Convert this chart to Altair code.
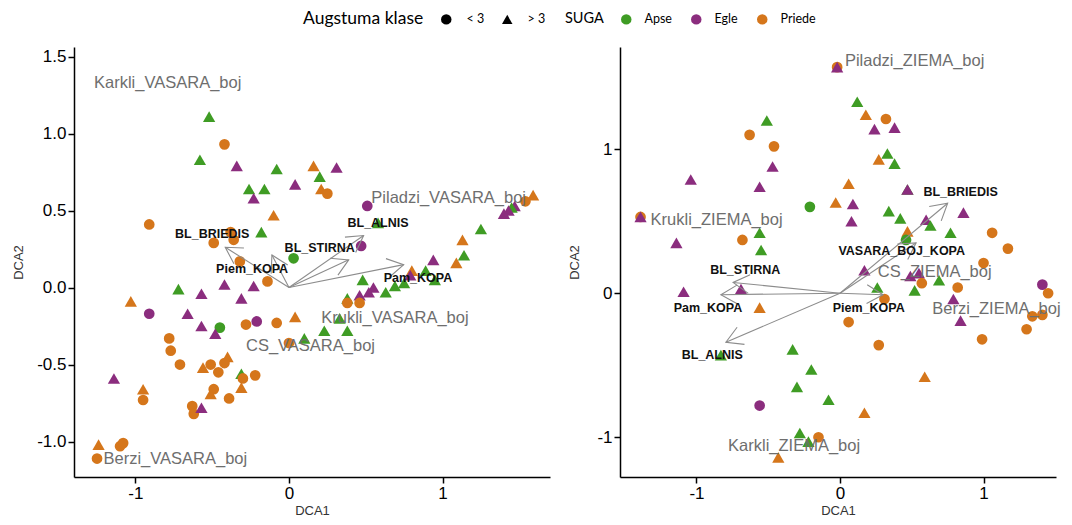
import math
import altair as alt
import pandas as pd

# ---------------- categories ----------------
SUGA = ["Apse", "Egle", "Priede"]
SUGA_COLORS = ["#3f9c24", "#8b2d7e", "#d5761b"]
KLASE = ["< 3", "> 3"]
KLASE_SHAPES = ["circle", "triangle-up"]
SUGA_CODE = {"G": "Apse", "P": "Egle", "O": "Priede"}
KLASE_CODE = {"c": "< 3", "t": "> 3"}

# ---------------- left panel (VASARA) : site scores ----------------
L_x = [-0.52, -0.42, -0.58, -0.34, -0.08, -0.26, -0.16, 0.04, -0.23, -0.10,
       -0.91, -0.18, -0.38, -0.36, -0.49, 0.03, -0.32, -0.14, -0.42, -0.23,
       0.16, 0.31, 0.20, 0.21, 0.25, 0.51, 0.58, 0.47, 1.59, 1.54,
       1.47, 1.45, 1.43, 1.40, 1.25, 1.13, 1.14, 1.09, 0.94, 0.80,
       0.89, 0.79, 0.95, 0.75, 0.69, 0.63, 0.48, 0.55, 0.52, 0.46,
       0.38, 0.38, 0.46, 0.33, 0.04, 0.23, 0.38, 0.00, 0.10, -0.22,
       -0.72, -1.03, -0.57, -0.31, -0.91, -0.66, -0.57, -0.45, -0.48, -0.28,
       -0.21, -0.08, -0.78, -0.77, -0.71, -0.40, -0.42, -0.51, -0.56, -0.46,
       -1.14, -0.31, -0.30, -0.31, -0.95, -0.95, -0.49, -0.51, -0.39, -0.63,
       -0.62, -0.57, -1.24, -1.10, -1.08, -1.25]
L_y = [1.11, 0.93, 0.83, 0.79, 0.77, 0.64, 0.64, 0.67, 0.58, 0.47,
       0.41, 0.36, 0.36, 0.31, 0.29, 0.19, 0.17, 0.04, 0.02, 0.01,
       0.79, 0.78, 0.72, 0.64, 0.61, 0.53, 0.42, 0.27, 0.60, 0.56,
       0.53, 0.52, 0.50, 0.48, 0.38, 0.31, 0.21, 0.16, 0.18, 0.11,
       0.11, 0.08, 0.05, 0.03, 0.01, -0.03, 0.05, 0.00, -0.03, -0.05,
       -0.07, -0.10, -0.10, -0.20, -0.19, -0.28, -0.28, -0.36, -0.33, -0.57,
       -0.01, -0.09, -0.04, -0.07, -0.17, -0.17, -0.25, -0.26, -0.30, -0.24,
       -0.22, -0.23, -0.33, -0.41, -0.50, -0.45, -0.49, -0.50, -0.52, -0.55,
       -0.59, -0.56, -0.59, -0.65, -0.66, -0.73, -0.66, -0.69, -0.72, -0.77,
       -0.82, -0.78, -1.02, -1.03, -1.01, -1.11]
# c = height class "< 3" (circle), t = "> 3" (triangle)
L_k = ("tctttttttt" "ctcccccctt" "ttttcctctc" "tttttttttt" "tttttttttt"
       "tccttttctc" "ttttcttctc" "ccccctcctc" "ttcttcctcc" "cttccc")
# G = Apse, P = Egle, O = Priede
L_s = ("GOGPGGGPPO" "OGOOOGOOPP" "OPGOOPGPOO" "PGPPGOGOPO" "GPGGGGGPPP"
       "GOOGOGGOGO" "GOPPPPPGPO" "POOOOOOOOO" "PGOOOOOOOO" "OPOOOO")

# ---------------- right panel (ZIEMA) : site scores ----------------
R_x = [-0.51, -0.63, -0.46, -0.47, -1.04, -0.56, -0.21, -1.39, -1.39, -1.14,
       -0.56, -0.68, -0.55, -0.02, -0.02, 0.12, 0.18, 0.32, 0.24, 0.38,
       0.33, 0.38, 0.27, 0.06, -0.03, 0.09, 0.08, 0.47, 0.47, 0.86,
       0.34, 0.42, 0.60, 0.63, 0.77, 0.47, 0.46, 1.06, 1.17, 1.00,
       0.17, 0.49, 0.55, 0.57, 0.69, 0.82, 1.41, 0.26, 0.31, 0.52,
       1.45, 0.79, 0.84, 1.34, 1.41, 1.56, 1.30, 0.99, 0.06, 0.27,
       -0.20, 0.59, -0.08, 0.17, -0.15, -0.28, -1.09, -0.69, -0.56, -0.83,
       -0.33, -0.30, -0.56, -0.22, -0.43]
R_y = [1.20, 1.10, 1.02, 0.88, 0.79, 0.74, 0.60, 0.53, 0.53, 0.35,
       0.42, 0.37, 0.30, 1.57, 1.57, 1.33, 1.24, 1.21, 1.14, 1.15,
       0.97, 0.90, 0.93, 0.76, 0.63, 0.62, 0.50, 0.72, 0.72, 0.56,
       0.57, 0.52, 0.51, 0.47, 0.42, 0.43, 0.37, 0.42, 0.31, 0.21,
       0.16, 0.12, 0.14, 0.07, 0.09, 0.04, 0.06, 0.04, -0.04, 0.02,
       0.00, -0.04, -0.19, -0.16, -0.15, -0.11, -0.25, -0.32, -0.20, -0.36,
       -0.53, -0.58, -0.74, -0.83, -1.00, -0.97, 0.01, 0.03, -0.10, -0.43,
       -0.39, -0.65, -0.78, -1.03, -1.14]
R_k = ("tcctttcctt" "tctctttctt" "tttttttttt" "ttttttcccc" "tttctcctct"
       "cttcctcccc" "ttttcttttt" "ttctt")
R_s = ("GOOPPPGOPP" "GOGOPGOOPP" "GGOOOPPGPP" "GGPGGOGOOO" "PPPOGOPGOG"
       "OPPOOOOOOO" "GOGOOGPPOG" "GGPGO")

# ---------------- fitted vectors (arrows) ----------------
LA_name = ["BL_BRIEDIS", "Piem_KOPA", "BL_STIRNA", "BL_ALNIS", "Pam_KOPA"]
LA_x = [-0.415, -0.111, 0.389, 0.486, 0.747]
LA_y = [0.262, 0.212, 0.180, 0.338, 0.149]
LA_lx = [-0.50, -0.24, 0.20, 0.58, 0.84]
LA_ly = [0.35, 0.12, 0.26, 0.42, 0.065]

RA_name = ["BL_BRIEDIS", "VASARA_BOJ_KOPA", "BL_STIRNA", "Pam_KOPA", "BL_ALNIS", "Piem_KOPA"]
RA_x = [0.75, 0.53, -0.745, -0.83, -0.795, 0.30]
RA_y = [0.625, 0.35, 0.075, -0.01, -0.34, -0.01]
RA_lx = [0.84, 0.43, -0.66, -0.92, -0.89, 0.20]
RA_ly = [0.70, 0.29, 0.16, -0.10, -0.43, -0.10]

# ---------------- other (grey) labels ----------------
LG_name = ["Karkli_VASARA_boj", "Piladzi_VASARA_boj", "Krukli_VASARA_boj", "CS_VASARA_boj", "Berzi_VASARA_boj"]
LG_x = [-0.79, 1.04, 0.69, 0.14, -0.74]
LG_y = [1.33, 0.58, -0.20, -0.38, -1.11]
RG_name = ["Piladzi_ZIEMA_boj", "Krukli_ZIEMA_boj", "CS_ZIEMA_boj", "Berzi_ZIEMA_boj", "Karkli_ZIEMA_boj"]
RG_x = [0.52, -0.86, 0.66, 1.09, -0.32]
RG_y = [1.61, 0.51, 0.15, -0.11, -1.06]

FONT = "Liberation Sans"
ARROW = "#8c8c8c"
GREY_TXT = "#6e6e6e"
HEAD = "M-0.5,0.866L0,0L0.5,0.866"

shape_legend = alt.Legend(
    title="Augstuma klase", orient="none", legendX=229, legendY=-34,
    direction="horizontal", titleOrient="left", titleFont="Lato", titleFontSize=17.5,
    titleFontWeight="normal", titleColor="black", titlePadding=16,
    labelFont="Lato", labelFontSize=12.5, labelColor="black", labelOffset=14,
    symbolFillColor="black", symbolStrokeColor="black", symbolStrokeWidth=0,
    symbolSize=110, columnPadding=16,
)
color_legend = alt.Legend(
    title="SUGA", orient="none", legendX=491, legendY=-34,
    direction="horizontal", titleOrient="left", titleFont="Lato", titleFontSize=14.5,
    titleFontWeight="normal", titleColor="black", titlePadding=16,
    labelFont="Lato", labelFontSize=12.5, labelColor="black", labelOffset=12,
    symbolType="circle", symbolSize=110, symbolStrokeWidth=0, columnPadding=18,
)


def panel(px, py, pk, ps, ax, ay, an, alx, aly, gn, gx, gy, xdom, ydom, w, h,
          yvals, ydec, ytpad, clip):
    sx = w / (xdom[1] - xdom[0])
    sy = h / (ydom[1] - ydom[0])
    xs = alt.Scale(domain=xdom, nice=False, zero=False)
    ys = alt.Scale(domain=ydom, nice=False, zero=False)
    fmt = ".1f" if ydec else "d"
    xaxis = alt.Axis(values=[-1, 0, 1], title="DCA1", titlePadding=3,
                     labelExpr="(datum.value < 0 ? '-' : '') + format(abs(datum.value), 'd')")
    yaxis = alt.Axis(values=yvals, title="DCA2", titlePadding=ytpad,
                     labelExpr="(datum.value < 0 ? '-' : '') + format(abs(datum.value), '%s')" % fmt)
    pts = pd.DataFrame({
        "x": px, "y": py,
        "klase": [KLASE_CODE[c] for c in pk],
        "suga": [SUGA_CODE[c] for c in ps],
    })
    points = alt.Chart(pts).mark_point(filled=True, opacity=1, clip=clip).encode(
        x=alt.X("x:Q", scale=xs, axis=xaxis),
        y=alt.Y("y:Q", scale=ys, axis=yaxis),
        shape=alt.Shape("klase:N", scale=alt.Scale(domain=KLASE, range=KLASE_SHAPES), legend=shape_legend),
        size=alt.condition(alt.datum.klase == "> 3", alt.value(150), alt.value(115)),
        color=alt.Color("suga:N", scale=alt.Scale(domain=SUGA, range=SUGA_COLORS), legend=color_legend),
    )
    ang = [(math.degrees(math.atan2(a * sx, b * sy)) + 360) % 360 for a, b in zip(ax, ay)]
    arr = pd.DataFrame({"x": ax, "y": ay, "x0": [0.0] * len(ax), "y0": [0.0] * len(ax), "ang": ang})
    rules = alt.Chart(arr).mark_rule(color=ARROW, strokeWidth=1.1).encode(
        x=alt.X("x:Q", scale=xs), y=alt.Y("y:Q", scale=ys), x2="x0:Q", y2="y0:Q")
    heads = alt.Chart(arr).mark_point(shape=HEAD, filled=False, size=1400, color=ARROW,
                                      strokeWidth=1.1, opacity=1).encode(
        x=alt.X("x:Q", scale=xs), y=alt.Y("y:Q", scale=ys), angle=alt.Angle("ang:Q", scale=None))
    bl = pd.DataFrame({"x": alx, "y": aly, "label": an})
    btext = alt.Chart(bl).mark_text(font=FONT, fontSize=12.5, fontWeight="bold", color="#111111").encode(
        x=alt.X("x:Q", scale=xs), y=alt.Y("y:Q", scale=ys), text="label:N")
    gl = pd.DataFrame({"x": gx, "y": gy, "label": gn})
    gtext = alt.Chart(gl).mark_text(font=FONT, fontSize=16.5, color=GREY_TXT).encode(
        x=alt.X("x:Q", scale=xs), y=alt.Y("y:Q", scale=ys), text="label:N")
    return alt.layer(points, rules, heads, gtext, btext).properties(width=w, height=h)


left = panel(L_x, L_y, L_k, L_s, LA_x, LA_y, LA_name, LA_lx, LA_ly, LG_name, LG_x, LG_y,
             [-1.40, 1.70], [-1.23, 1.562], 476, 430, [-1.0, -0.5, 0.0, 0.5, 1.0, 1.5], True, 11, False)
right = panel(R_x, R_y, R_k, R_s, RA_x, RA_y, RA_name, RA_lx, RA_ly, RG_name, RG_x, RG_y,
              [-1.533, 1.505], [-1.276, 1.71], 436, 430, [-1, 0, 1], False, 15, True)

chart = alt.hconcat(left, right, spacing=18).resolve_scale(
    color="shared", shape="shared"
).properties(
    padding={"left": 4, "top": 5, "right": 0, "bottom": 0}
).configure_view(stroke=None).configure_axis(
    grid=False, domainColor="black", domainWidth=1.5, tickColor="black", tickWidth=1.5,
    tickSize=6, labelFont=FONT, labelFontSize=17, labelColor="black", labelPadding=2,
    titleFont=FONT, titleFontSize=13, titleFontWeight="normal", titleColor="#333333",
)

chart.save("out.html", embed_options={"renderer": "svg", "actions": False})
